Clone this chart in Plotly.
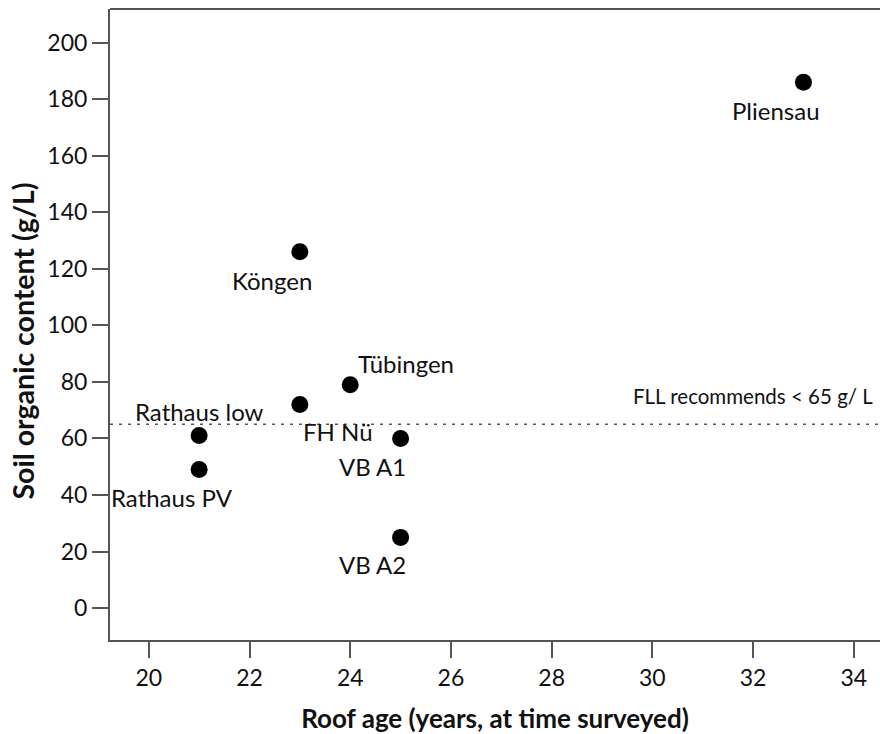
import plotly.graph_objects as go

sites = ["Rathaus low", "Rathaus PV", "FH Nü", "Tübingen", "Köngen", "VB A1", "VB A2", "Pliensau"]
roof_age = [21, 21, 23, 24, 23, 25, 25, 33]
organic = [61, 49, 72, 79, 126, 60, 25, 186]
# label offsets (px) relative to each point
label_dx = [0, -27, 38, 56, -28, -28, -28, -27]
label_dy = [24, -28, -27, 21, -29, -28, -27, -28]

threshold = 65
threshold_label = "FLL recommends < 65 g/ L"

x_ticks = [20, 22, 24, 26, 28, 30, 32, 34]
y_ticks = [0, 20, 40, 60, 80, 100, 120, 140, 160, 180, 200]

FONT = "Lato"
AX = "#555"
fig = go.Figure()
fig.add_trace(go.Scatter(
    x=roof_age, y=organic, mode="markers",
    marker=dict(size=17, color="black"),
    showlegend=False, hoverinfo="skip"))

for s, x, y, dx, dy in zip(sites, roof_age, organic, label_dx, label_dy):
    fig.add_annotation(x=x, y=y, text=s, showarrow=False,
                       xshift=dx, yshift=dy,
                       font=dict(family=FONT, size=24, color="#111"))

fig.add_shape(type="line", xref="paper", x0=0, x1=1, yref="y", y0=threshold, y1=threshold,
              line=dict(color="#555", width=1.5, dash="3px,6px"))
fig.add_annotation(xref="paper", x=0.9935, y=threshold, yshift=28, text=threshold_label,
                   showarrow=False, xanchor="right",
                   font=dict(family=FONT, size=20.5, color="#111"))
# top frame line
fig.add_shape(type="line", xref="paper", yref="paper", x0=0, x1=1, y0=1, y1=1,
              line=dict(color=AX, width=2))
# y axis title
fig.add_annotation(xref="paper", yref="paper", x=0, xshift=-88, xanchor="center",
                   y=0.5, yshift=-17, yanchor="middle",
                   text="<b>Soil organic content (g/L)</b>", textangle=-90, showarrow=False,
                   font=dict(family=FONT, size=28.5, color="#111"))

fig.update_layout(
    width=880, height=734,
    margin=dict(l=110, r=0, t=9, b=94),
    plot_bgcolor="white", paper_bgcolor="white",
    font=dict(family=FONT, size=23, color="#111"),
    hovermode=False,
    xaxis=dict(range=[19.23, 34.52], tickvals=x_ticks, ticks="outside", ticklen=16,
               tickwidth=2, tickcolor=AX, showline=True, linecolor=AX, linewidth=2,
               showgrid=False, zeroline=False, tickfont=dict(size=23),
               title=dict(text="<b>Roof age (years, at time surveyed)</b>", font=dict(size=26), standoff=23)),
    yaxis=dict(range=[-11.3, 211.9], tickvals=y_ticks, ticks="outside", ticklen=16,
               tickwidth=2, tickcolor=AX, showline=True, linecolor=AX, linewidth=2,
               showgrid=False, zeroline=False, tickfont=dict(size=23)),
)
fig.write_html("out.html", config=dict(staticPlot=True, displayModeBar=False),
               post_script="document.body.style.margin='0';document.documentElement.style.overflow='hidden';")
